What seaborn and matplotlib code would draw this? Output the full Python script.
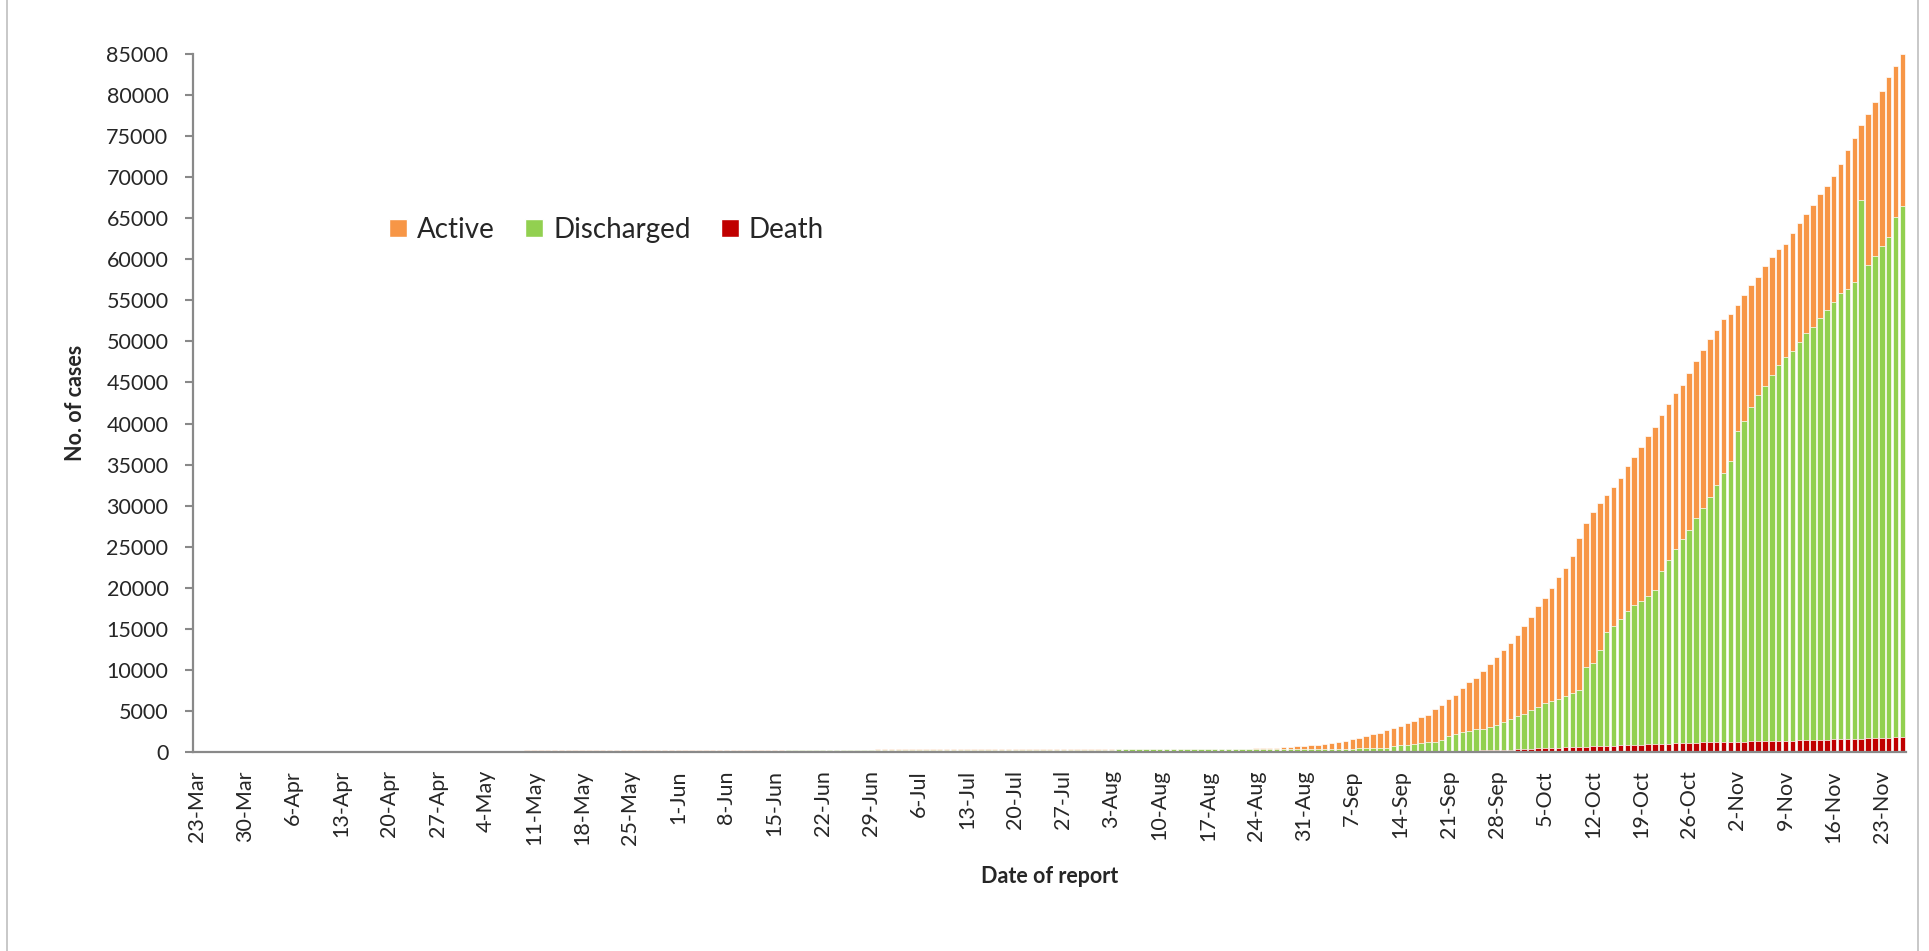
import pandas as pd
import matplotlib.pyplot as plt
import seaborn as sns
from matplotlib.patches import Patch, Rectangle

# Cumulative daily figures, 23-Mar to 26-Nov (one value per report date)
dates = pd.date_range("2020-03-23", "2020-11-26", freq="D")

total_cases = [
    # Mar 23-31
    3, 3, 3, 5, 8, 8, 10, 14, 15,
    # Apr
    15, 20, 21, 21, 22, 22, 22, 27, 27, 28, 39, 41, 62, 74, 85, 88, 98, 107, 111, 111,
    119, 121, 127, 144, 144, 146, 146, 146, 150, 151,
    # May
    151, 155, 155, 161, 161, 161, 171, 176, 177, 178, 180, 180, 180, 181, 182, 182,
    184, 184, 187, 191, 193, 199, 199, 201, 201, 203, 206, 206, 207, 224, 224,
    # Jun
    228, 232, 233, 236, 240, 244, 246, 246, 250, 261, 261, 261, 262, 262, 262, 263,
    272, 279, 286, 287, 287, 287, 291, 292, 293, 293, 296, 299, 299, 303,
    # Jul
    303, 304, 308, 313, 316, 316, 317, 317, 318, 321, 326, 331, 331, 332, 336, 336,
    339, 339, 340, 341, 341, 343, 343, 344, 346, 350, 351, 353, 353, 353, 353,
    # Aug
    353, 355, 356, 357, 357, 357, 357, 357, 360, 361, 361, 363, 365, 367, 374, 374,
    375, 376, 380, 385, 395, 401, 413, 435, 474, 511, 531, 574, 608, 676, 733,
    # Sep
    812, 893, 974, 1096, 1177, 1380, 1543, 1665, 1949, 2152, 2361, 2686, 2971, 3215,
    3582, 3785, 4274, 4558, 5210, 5739, 6390, 6919, 7733, 8466, 9035, 9890, 10704,
    11600, 12373, 13290,
    # Oct
    14300, 15366, 16402, 17725, 18704, 19970, 21351, 22387, 23826, 26013, 27854, 29235,
    30380, 31270, 32300, 33420, 34800, 35940, 37105, 38460, 39600, 40983, 42340, 43720,
    44674, 46138, 47603, 49012, 50341, 51426, 52675,
    # Nov 1-26
    53350, 54490, 55685, 56825, 57856, 59210, 60254, 61290, 61923, 63189, 64398, 65491,
    66642, 67908, 68887, 70095, 71649, 73261, 74815, 76369, 77750, 79189, 80455, 82181,
    83563, 85059,
]

discharged = [
    # Mar 23-31
    0, 0, 0, 0, 0, 0, 0, 0, 0,
    # Apr
    0, 0, 0, 0, 0, 2, 2, 2, 2, 2, 2, 2, 2, 2, 2, 3, 4, 5, 6, 7, 7, 9, 10, 11, 13, 19,
    27, 38, 42, 46,
    # May
    50, 54, 58, 60, 63, 66, 70, 74, 76, 79, 79, 85, 88, 90, 93, 95, 97, 97, 99, 100,
    104, 108, 112, 116, 119, 123, 127, 130, 133, 136, 138,
    # Jun
    139, 142, 144, 146, 148, 150, 155, 160, 163, 165, 166, 167, 168, 169, 169, 170,
    172, 175, 178, 180, 184, 186, 190, 195, 200, 205, 210, 216, 222, 225,
    # Jul
    228, 230, 232, 235, 238, 240, 242, 244, 246, 248, 250, 252, 256, 258, 260, 262,
    264, 266, 268, 270, 273, 275, 277, 279, 281, 283, 285, 287, 289, 290, 291,
    # Aug
    292, 293, 293, 294, 294, 295, 296, 296, 297, 297, 298, 299, 300, 301, 302, 303,
    305, 306, 307, 308, 309, 310, 312, 314, 316, 318, 320, 322, 326, 330, 335,
    # Sep
    339, 343, 352, 362, 372, 385, 399, 413, 426, 446, 471, 522, 672, 791, 860, 893,
    1048, 1121, 1199, 1355, 1858, 2041, 2265, 2453, 2605, 2609, 2819, 3030, 3357, 3687,
    # Oct
    4062, 4316, 4679, 5104, 5479, 5740, 5993, 6246, 6629, 6924, 9649, 10135, 11680,
    13814, 14607, 15367, 16324, 17032, 17490, 18084, 18812, 21069, 22412, 23628, 24821,
    25934, 27343, 28538, 29922, 31288, 32711,
    # Nov 1-26
    34161, 37889, 39044, 40725, 42145, 43269, 44585, 45779, 46679, 47408, 48541, 49614,
    50346, 51416, 52374, 53326, 54337, 54768, 55653, 65530, 57668, 58725, 59905, 60925,
    63377, 64686,
]

deaths = (
    [0, 0, 0, 0, 0, 0, 0, 1, 1]
    + [1, 1, 1, 1, 1, 1, 1, 3, 3, 3, 4, 4, 4, 4, 5, 5, 5, 5, 5, 5, 5, 5, 5, 5, 5, 6, 6, 6, 6, 6]
    + [6] * 31 + [6] * 30 + [6] * 31 + [6] * 31
    + [6, 7, 8, 8, 8, 10, 11, 12, 14, 14, 17, 18, 20, 23, 35, 43, 51, 59, 63, 70,
       96, 116, 136, 152, 163, 181, 193, 226, 243, 284]
    + [312, 346, 385, 421, 449, 476, 510, 545, 565, 615, 652, 684, 710, 751, 771, 798,
       844, 868, 898, 928, 962, 981, 1018, 1054, 1081, 1108, 1137, 1162, 1188, 1207, 1219]
    + [1234, 1249, 1264, 1289, 1306, 1321, 1340, 1355, 1375, 1395, 1413, 1433, 1449,
       1472, 1493, 1519, 1544, 1573, 1609, 1631, 1666, 1703, 1731, 1747, 1770, 1784]
)

labels = [f"{d.day}-{d.strftime('%b')}" for d in dates]
df = pd.DataFrame({"Date": labels, "Total": total_cases,
                   "Discharged": discharged, "Death": deaths})
df["Active"] = df["Total"] - df["Discharged"] - df["Death"]
# stacked tops for the overlay trick
df["DischargedTop"] = df["Death"] + df["Discharged"]

colors = {"Active": "#F79646", "Discharged": "#92D050", "Death": "#C00000"}

sns.set_style("white")
plt.rcParams["font.family"] = ["Lato", "DejaVu Sans"]

fig = plt.figure(figsize=(19.29, 9.51), dpi=100)
ax = fig.add_axes([0.1003, 0.2093, 0.8877, 0.7339])

bar_kw = dict(x="Date", errorbar=None, saturation=1, width=0.8,
              edgecolor="white", linewidth=0.5, ax=ax)
sns.barplot(data=df, y="Total", color=colors["Active"], **bar_kw)
sns.barplot(data=df, y="DischargedTop", color=colors["Discharged"], **bar_kw)
sns.barplot(data=df, y="Death", color=colors["Death"], **bar_kw)

ax.set_ylim(0, 85000)
ax.set_yticks(range(0, 85001, 5000))
ax.set_yticklabels([str(v) for v in range(0, 85001, 5000)], fontsize=15.5)
ax.set_xlim(-0.5, len(df) - 0.5)
tick_pos = list(range(0, len(df), 7))
ax.set_xticks(tick_pos)
ax.set_xticklabels([labels[i] for i in tick_pos], rotation=90, fontsize=15.5)

grey = "#898989"
for side in ["top", "right"]:
    ax.spines[side].set_visible(False)
for side in ["left", "bottom"]:
    ax.spines[side].set_color(grey)
    ax.spines[side].set_linewidth(1.6)
ax.tick_params(axis="y", direction="out", length=6, width=1.5, color=grey, pad=12, left=True)
ax.tick_params(axis="x", length=0, pad=13)

ax.set_ylabel("No. of cases", fontsize=15.5, fontweight="bold")
ax.set_xlabel("Date of report", fontsize=15.5, fontweight="bold")
ax.yaxis.set_label_coords(-0.0625, 0.5)
ax.xaxis.set_label_coords(0.5, -0.163)

handles = [Patch(facecolor=colors[k], label=k) for k in ["Active", "Discharged", "Death"]]
ax.legend(handles=handles, loc="center left", bbox_to_anchor=(0.1142, 0.748),
          ncol=3, frameon=False, fontsize=20, handlelength=0.65, handleheight=0.65,
          handletextpad=0.35, columnspacing=1.1, borderpad=0, borderaxespad=0)

# outer chart frame
fig.patches.append(Rectangle((7 / 1929, -0.01), (1918 - 7) / 1929, 1.02,
                             transform=fig.transFigure, fill=False,
                             edgecolor="#BFBFBF", linewidth=1.2))

fig.savefig("out.png", dpi=100)
